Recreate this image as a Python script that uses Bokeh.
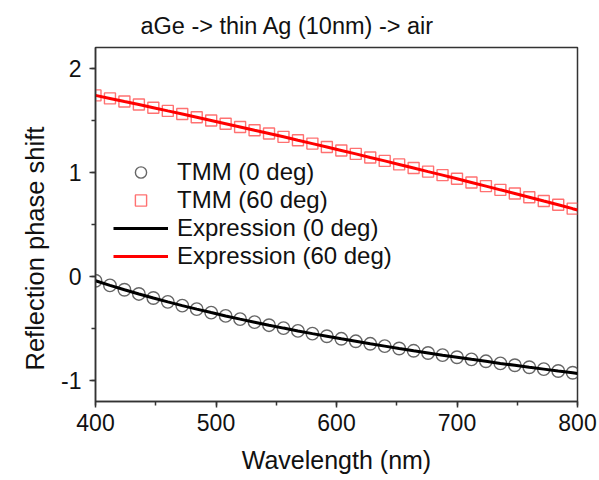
from bokeh.plotting import figure
from bokeh.models import (Range1d, SingleIntervalTicker, Legend, LegendItem, Title,
                          ColumnDataSource, PrintfTickFormatter)
from bokeh.embed import file_html
from bokeh.resources import INLINE

# ---- data ----
tmm_wavelength = [400, 412, 424, 436, 448, 460, 472, 484, 496, 508, 520, 532, 544, 556,
                  568, 580, 592, 604, 616, 628, 640, 652, 664, 676, 688, 700, 712, 724,
                  736, 748, 760, 772, 784, 796]
tmm_0deg = [-0.040, -0.085, -0.127, -0.167, -0.206, -0.243, -0.279, -0.313, -0.346,
            -0.378, -0.409, -0.438, -0.467, -0.495, -0.522, -0.548, -0.573, -0.598,
            -0.622, -0.646, -0.668, -0.691, -0.713, -0.734, -0.755, -0.775, -0.795,
            -0.814, -0.834, -0.852, -0.871, -0.889, -0.907, -0.924]
tmm_60deg = [1.740, 1.711, 1.681, 1.652, 1.622, 1.591, 1.561, 1.530, 1.499, 1.468,
             1.437, 1.405, 1.374, 1.342, 1.309, 1.277, 1.244, 1.211, 1.178, 1.144,
             1.111, 1.077, 1.043, 1.008, 0.974, 0.939, 0.904, 0.869, 0.833, 0.798,
             0.762, 0.725, 0.689, 0.652]
expr_wavelength = [400, 412, 424, 436, 448, 460, 472, 484, 496, 508, 520, 532, 544, 556,
                   568, 580, 592, 604, 616, 628, 640, 652, 664, 676, 688, 700, 712, 724,
                   736, 748, 760, 772, 784, 796, 800]
expr_0deg = [-0.040, -0.085, -0.127, -0.167, -0.206, -0.243, -0.279, -0.313, -0.346,
             -0.378, -0.409, -0.438, -0.467, -0.495, -0.522, -0.548, -0.573, -0.598,
             -0.622, -0.646, -0.668, -0.691, -0.713, -0.734, -0.755, -0.775, -0.795,
             -0.814, -0.834, -0.852, -0.871, -0.889, -0.907, -0.924, -0.930]
expr_60deg = [1.740, 1.711, 1.681, 1.652, 1.622, 1.591, 1.561, 1.530, 1.499, 1.468,
              1.437, 1.405, 1.374, 1.342, 1.309, 1.277, 1.244, 1.211, 1.178, 1.144,
              1.111, 1.077, 1.043, 1.008, 0.974, 0.939, 0.904, 0.869, 0.833, 0.798,
              0.762, 0.725, 0.689, 0.652, 0.640]
legend_labels = ["TMM (0 deg)", "TMM (60 deg)", "Expression (0 deg)", "Expression (60 deg)"]
title_text = "aGe -> thin Ag (10nm) -> air"
x_label = "Wavelength (nm)"
y_label = "Reflection phase shift"

FONT = "Liberation Sans"

p = figure(width=599, height=480, output_backend="svg", toolbar_location=None,
           x_range=Range1d(400, 800), y_range=Range1d(-1.2, 2.2),
           min_border_left=95, min_border_right=22, min_border_top=47, min_border_bottom=79)
p.title = None
p.xgrid.visible = False
p.ygrid.visible = False
p.outline_line_color = "#333333"
p.outline_line_width = 1.5
p.background_fill_color = "white"
p.border_fill_color = "white"

# title
t = Title(text=title_text, align="left", offset=45, text_font=FONT,
          text_font_size="23.5px", text_font_style="normal", text_color="#111111",
          standoff=18)
p.add_layout(t, "above")

# y label as side title
yl = Title(text=y_label, align="left", offset=31, text_font=FONT,
           text_font_size="25.5px", text_font_style="normal", text_color="#111111",
           standoff=20)
p.add_layout(yl, "left")

for ax in (p.xaxis[0], p.yaxis[0]):
    ax.axis_line_color = "#333333"
    ax.axis_line_width = 1.5
    ax.major_tick_line_color = "#333333"
    ax.minor_tick_line_color = "#333333"
    ax.major_tick_line_width = 1.5
    ax.minor_tick_line_width = 1.5
    ax.major_tick_in = 0
    ax.major_tick_out = 6
    ax.minor_tick_in = 0
    ax.minor_tick_out = 4
    ax.major_label_text_font = FONT
    ax.major_label_text_font_size = "23px"
    ax.major_label_text_color = "#111111"
    ax.axis_label_text_font = FONT
    ax.axis_label_text_font_size = "25px"
    ax.axis_label_text_font_style = "normal"
    ax.axis_label_text_color = "#111111"

p.xaxis[0].ticker = SingleIntervalTicker(interval=100, num_minor_ticks=2)
p.yaxis[0].ticker = SingleIntervalTicker(interval=1, num_minor_ticks=2)
p.yaxis[0].formatter = PrintfTickFormatter(format="%d")
p.xaxis[0].axis_label = x_label
p.xaxis[0].major_label_standoff = 6
p.xaxis[0].axis_label_standoff = 12
p.yaxis[0].major_label_standoff = 8

src_tmm = ColumnDataSource(dict(x=tmm_wavelength, y0=tmm_0deg, y60=tmm_60deg))
src_expr = ColumnDataSource(dict(x=expr_wavelength, y0=expr_0deg, y60=expr_60deg))

r_c = p.scatter("x", "y0", source=src_tmm, marker="circle", size=12.5,
                fill_color=None, line_color="#555555", line_width=1.4, line_alpha=0.9)
r_s = p.scatter("x", "y60", source=src_tmm, marker="square", size=11,
                fill_color=None, line_color="#ff4d4d", line_width=1.4, line_alpha=0.8)
r_l0 = p.line("x", "y0", source=src_expr, line_color="black", line_width=3)
r_l60 = p.line("x", "y60", source=src_expr, line_color="#ff0000", line_width=3)

legend = Legend(items=[
    LegendItem(label=legend_labels[0], renderers=[r_c]),
    LegendItem(label=legend_labels[1], renderers=[r_s]),
    LegendItem(label=legend_labels[2], renderers=[r_l0]),
    LegendItem(label=legend_labels[3], renderers=[r_l60]),
], location=(18, 131))
legend.background_fill_alpha = 0
legend.border_line_alpha = 0
legend.padding = 0
legend.margin = 0
legend.spacing = 0
legend.glyph_width = 55
legend.glyph_height = 28
legend.label_height = 28
legend.label_standoff = 9
legend.label_text_font = FONT
legend.label_text_font_size = "24px"
legend.label_text_color = "#111111"
p.add_layout(legend, "center")

open("out.html", "w").write(file_html(p, INLINE))
